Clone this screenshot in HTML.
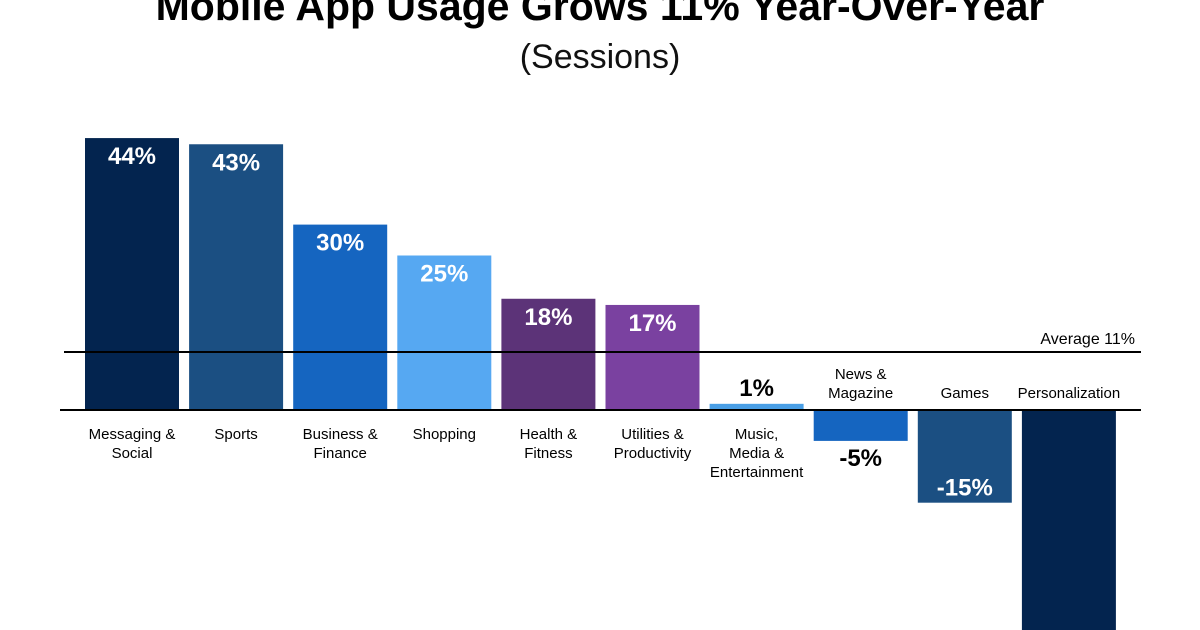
<!DOCTYPE html>
<html><head><meta charset="utf-8"><style>
html,body{margin:0;padding:0;background:#fff;}
svg{display:block;font-family:"Liberation Sans",sans-serif;}
</style></head><body>
<svg id="chart" width="1200" height="630" viewBox="0 0 1200 630">
<text x="600" y="20" text-anchor="middle" font-size="41" font-weight="bold" fill="#000">Mobile App Usage Grows 11% Year-Over-Year</text>
<text x="600" y="68" text-anchor="middle" font-size="34" fill="#111">(Sessions)</text>
<g id="bars"></g>
</svg>
<script>
const categories=[["Messaging &","Social"],["Sports"],["Business &","Finance"],["Shopping"],["Health &","Fitness"],["Utilities &","Productivity"],["Music,","Media &","Entertainment"],["News &","Magazine"],["Games"],["Personalization"]];
const values=[44,43,30,25,18,17,1,-5,-15,-40];
const valueLabels=["44%","43%","30%","25%","18%","17%","1%","-5%","-15%",""];
const colors=["#03244f","#1b4f82","#1565c0","#56a8f2","#5c3378","#7a41a0","#4a9fe6","#1565c0","#1b4f82","#03244f"];
const averageValue=11;
const averageLabel="Average 11%";

const NS="http://www.w3.org/2000/svg";
const svg=document.getElementById("chart");
const g=document.getElementById("bars");
const baseY=410, scale=6.18;
function y(v){return baseY-v*scale;}
function xBand(i){return 85+i*104.1;}
const bw=94;
function mk(tag,attrs,parent){const e=document.createElementNS(NS,tag);for(const k in attrs)e.setAttribute(k,attrs[k]);(parent||g).appendChild(e);return e;}
values.forEach((v,i)=>{
  const x=xBand(i);
  const r=mk("rect",{x:x,y:Math.min(y(v),baseY),width:bw,height:Math.abs(y(v)-baseY),fill:colors[i]});
  
  
  const cx=x+bw/2;
  if(valueLabels[i]){
    let ty,fill;
    if(v>=5){ty=y(v)+26;fill="#fff";}
    else if(v>=0){ty=y(v)-8;fill="#000";}
    else if(v>-10){ty=y(v)+25;fill="#000";}
    else{ty=y(v)-7;fill="#fff";}
    const t=mk("text",{x:cx,y:ty,"text-anchor":"middle","font-size":"24","font-weight":"bold",fill:fill});
    t.textContent=valueLabels[i];
    
    
  }
  const lines=categories[i];
  const t=mk("text",{x:cx,"text-anchor":"middle","font-size":"15",fill:"#000"});
  
  
  let startY = v>=0 ? 439 : 398-(lines.length-1)*19;
  lines.forEach((ln,j)=>{const s=mk("tspan",{x:cx,y:startY+j*19},t);s.textContent=ln;});
});
const base=mk("line",{x1:60,x2:1141,y1:baseY,y2:baseY,stroke:"#000","stroke-width":2});


const avgY=352;
const avg=mk("line",{x1:64,x2:1141,y1:avgY,y2:avgY,stroke:"#000","stroke-width":2});


const at=mk("text",{x:1135,y:avgY-8,"text-anchor":"end","font-size":"16",fill:"#000"});
at.textContent=averageLabel;


</script>
</body></html>
